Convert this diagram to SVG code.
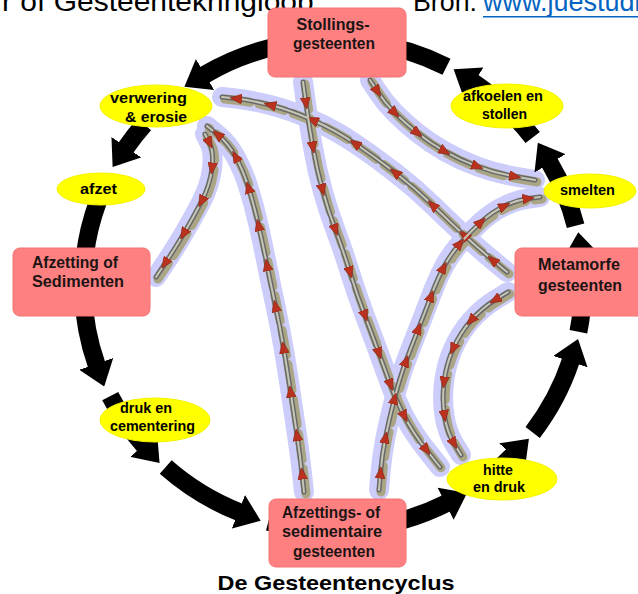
<svg xmlns="http://www.w3.org/2000/svg" xmlns:xlink="http://www.w3.org/1999/xlink" width="638" height="594" viewBox="0 0 638 594">
<style>
.top{font-family:"Liberation Sans",Arial,sans-serif;font-size:27px;fill:#000}
.link{fill:#0563c1}
.t{font-family:"Liberation Sans",Arial,sans-serif;font-weight:bold;font-size:16px;fill:#1c1414}
.e{font-family:"Liberation Sans",Arial,sans-serif;font-weight:bold;font-size:15px;fill:#000;text-anchor:middle}
.m{text-anchor:middle}
.node{fill:#ff8080;stroke:#f47272;stroke-width:1}
.ell{fill:#ffff00;stroke:#f2f200;stroke-width:1}
.ring{fill:none;stroke:#000;stroke-width:18;marker-end:url(#bh)}
.glow{fill:none;stroke:#cccdfa;stroke-width:20;stroke-linecap:round;stroke-linejoin:round}
.mud{fill:none;stroke:#aaa584;stroke-width:9;stroke-linecap:round;stroke-dasharray:26 9}
.po{fill:none;stroke:#686868;stroke-width:5;stroke-linecap:round}
.pi{fill:none;stroke:#c6c6b6;stroke-width:2;stroke-linecap:round;marker-mid:url(#ra)}
.cap{font-family:"Liberation Sans",Arial,sans-serif;font-weight:bold;font-size:21px;fill:#000;text-anchor:middle}
</style>
<defs>
<marker id="bh" viewBox="0 0 12 18" refX="0.5" refY="9" markerWidth="1.333" markerHeight="2" orient="auto" markerUnits="strokeWidth"><path d="M0,0 L12,9 L0,18 z" fill="#000"/></marker>
<marker id="ra" viewBox="0 0 12 10" refX="6" refY="5" markerWidth="12" markerHeight="10" orient="auto" markerUnits="userSpaceOnUse"><path d="M0,0 L12,5 L0,10 z" fill="#b8321f" stroke="#8c2414" stroke-width="0.6"/></marker>
<path id="pA" d="M507,272 L492.5,260 Q478,248 464,235 Q450,222 432.5,205 Q415,188 395,172.5 Q375,157 355,143.5 Q335,130 312.5,120 Q290,110 270,105 Q250,100 236,98.5 L222,97"/>
<path id="pB" d="M303,82 L306,103.5 Q309,125 313,147.5 Q317,170 322.5,190 Q328,210 335.5,230 Q343,250 350,272.5 Q357,295 365,316 Q373,337 379,353.5 Q385,370 390.5,385 Q396,400 404.5,416.5 Q413,433 426.5,450 L440,467"/>
<path id="pC1" d="M304,492 L302,473.5 Q300,455 297,435 Q294,415 290.5,391.5 Q287,368 283.5,347.5 Q280,327 275.5,306 Q271,285 267,265 Q263,245 258.5,225 Q254,205 248.5,187.5 Q243,170 235.5,156.5 Q228,143 217.5,134.5 L207,126"/>
<path id="pC2" d="M205,134 L209.5,143 Q214,152 212,168.5 Q210,185 201.5,201.5 Q193,218 183.5,234 Q174,250 165,263.5 L156,277"/>
<path id="pD" d="M379,490 L380.5,472.5 Q382,455 385.5,437.5 Q389,420 394.5,398.5 Q400,377 406,361 Q412,345 418.5,328.5 Q425,312 431,296 Q437,280 443.5,267.5 Q450,255 460,243.5 Q470,232 481,222 Q492,212 504.5,206 Q517,200 528.5,198.5 L540,197"/>
<path id="pE" d="M370,80 L377.5,91.5 Q385,103 395,113 Q405,123 417.5,133 Q430,143 445,151.5 Q460,160 477.5,166.5 Q495,173 515,176.5 L535,180"/>
<path id="pF" d="M508,292 L495,300 Q482,308 471,320.5 Q460,333 453,349 Q446,365 444,382.5 Q442,400 444.5,416 Q447,432 454,443.5 L461,455"/>
</defs>

<g id="header">
<text class="top" x="2" y="11" textLength="320" lengthAdjust="spacingAndGlyphs">r of Gesteentekringloop.</text>
<text class="top" x="413" y="11" textLength="64" lengthAdjust="spacingAndGlyphs">Bron:</text>
<text class="top link" x="483" y="11">www.juestudie</text>
<rect x="483" y="16" width="155" height="1.5" fill="#0563c1"/>
</g>

<g id="connectors">
<g id="shortcuts">
<use href="#pA" class="glow"/><use href="#pB" class="glow"/><use href="#pC1" class="glow"/><use href="#pC2" class="glow"/><use href="#pD" class="glow"/><use href="#pE" class="glow"/><use href="#pF" class="glow"/>
<g transform="translate(2,2)">
<use href="#pA" class="mud"/><use href="#pB" class="mud"/><use href="#pC1" class="mud"/><use href="#pC2" class="mud"/><use href="#pD" class="mud"/><use href="#pE" class="mud"/><use href="#pF" class="mud"/>
</g>
<use href="#pA" class="po"/><use href="#pB" class="po"/><use href="#pC1" class="po"/><use href="#pC2" class="po"/><use href="#pD" class="po"/><use href="#pE" class="po"/><use href="#pF" class="po"/>
<use href="#pA" class="pi"/><use href="#pB" class="pi"/><use href="#pC1" class="pi"/><use href="#pC2" class="pi"/><use href="#pD" class="pi"/><use href="#pE" class="pi"/><use href="#pF" class="pi"/>
</g>
<g id="ring">
<path class="ring" d="M289.6,43.7 A250,245 0 0 0 204.2,75"/>
<path class="ring" d="M144.3,124.3 A250,245 0 0 0 125.7,148"/>
<path class="ring" d="M98.1,201.2 A250,245 0 0 0 83.2,276.4"/>
<path class="ring" d="M83.2,293.6 A250,245 0 0 0 96.6,364.8"/>
<path class="ring" d="M110.2,396.2 A250,245 0 0 0 144.3,445.7"/>
<path class="ring" d="M165.7,467.1 A250,245 0 0 0 239.3,512.2"/>
<path class="ring" d="M268.3,521.7 A250,245 0 0 0 446.5,503.3"/>
<path class="ring" d="M493.7,472.7 A250,245 0 0 0 512.8,455.2"/>
<path class="ring" d="M532.7,432.4 A250,245 0 0 0 570.8,360.7"/>
<path class="ring" d="M578.4,331.7 A250,245 0 0 0 581.1,255.1"/>
<path class="ring" d="M575.6,225.7 A250,245 0 0 0 549.5,162.5"/>
<path class="ring" d="M532.7,137.6 A250,245 0 0 0 472.8,81.9"/>
<path class="ring" d="M446.5,66.7 A250,245 0 0 0 367.8,42.4"/>
</g>
</g>

<g id="stollings">
<rect class="node" x="268" y="8" width="138" height="69" rx="7"/>
<text class="t m" x="333" y="30" textLength="73" lengthAdjust="spacingAndGlyphs">Stollings-</text>
<text class="t m" x="334" y="49" textLength="82" lengthAdjust="spacingAndGlyphs">gesteenten</text>
</g>
<g id="afzetting-sedimenten">
<rect class="node" x="13" y="248" width="137" height="68" rx="7"/>
<text class="t" x="32" y="268" textLength="86" lengthAdjust="spacingAndGlyphs">Afzetting of</text>
<text class="t" x="32" y="287" textLength="92" lengthAdjust="spacingAndGlyphs">Sedimenten</text>
</g>
<g id="metamorfe">
<rect class="node" x="515" y="248" width="130" height="68" rx="7"/>
<text class="t m" x="579" y="270" textLength="82" lengthAdjust="spacingAndGlyphs">Metamorfe</text>
<text class="t m" x="580" y="291" textLength="84" lengthAdjust="spacingAndGlyphs">gesteenten</text>
</g>
<g id="sedimentaire">
<rect class="node" x="269" y="499" width="137" height="68" rx="7"/>
<text class="t m" x="331" y="518" textLength="98" lengthAdjust="spacingAndGlyphs">Afzettings- of</text>
<text class="t m" x="332" y="537" textLength="100" lengthAdjust="spacingAndGlyphs">sedimentaire</text>
<text class="t m" x="334" y="557" textLength="82" lengthAdjust="spacingAndGlyphs">gesteenten</text>
</g>

<g id="verwering">
<ellipse class="ell" cx="156" cy="106" rx="56" ry="21"/>
<text class="e" x="148.5" y="103" textLength="77" lengthAdjust="spacingAndGlyphs">verwering</text>
<text class="e" x="156" y="122" textLength="62" lengthAdjust="spacingAndGlyphs">&amp; erosie</text>
</g>
<g id="afzet">
<ellipse class="ell" cx="101" cy="189" rx="44" ry="16"/>
<text class="e" x="98.5" y="194" textLength="37" lengthAdjust="spacingAndGlyphs">afzet</text>
</g>
<g id="druk-cementering">
<ellipse class="ell" cx="155" cy="420" rx="55" ry="22"/>
<text class="e" x="146" y="413" textLength="52" lengthAdjust="spacingAndGlyphs">druk en</text>
<text class="e" x="152.5" y="431" textLength="85" lengthAdjust="spacingAndGlyphs">cementering</text>
</g>
<g id="hitte-druk">
<ellipse class="ell" cx="502" cy="479" rx="55" ry="21"/>
<text class="e" x="498" y="475" textLength="30" lengthAdjust="spacingAndGlyphs">hitte</text>
<text class="e" x="499" y="492" textLength="52" lengthAdjust="spacingAndGlyphs">en druk</text>
</g>
<g id="smelten">
<ellipse class="ell" cx="590" cy="191" rx="46" ry="17"/>
<text class="e" x="587.5" y="195" textLength="55" lengthAdjust="spacingAndGlyphs">smelten</text>
</g>
<g id="afkoelen">
<ellipse class="ell" cx="507" cy="106" rx="56" ry="22"/>
<text class="e" x="503" y="101" textLength="80" lengthAdjust="spacingAndGlyphs">afkoelen en</text>
<text class="e" x="504.5" y="119" textLength="45" lengthAdjust="spacingAndGlyphs">stollen</text>
</g>

<text class="cap" x="336" y="590" textLength="237" lengthAdjust="spacingAndGlyphs">De Gesteentencyclus</text>
</svg>
